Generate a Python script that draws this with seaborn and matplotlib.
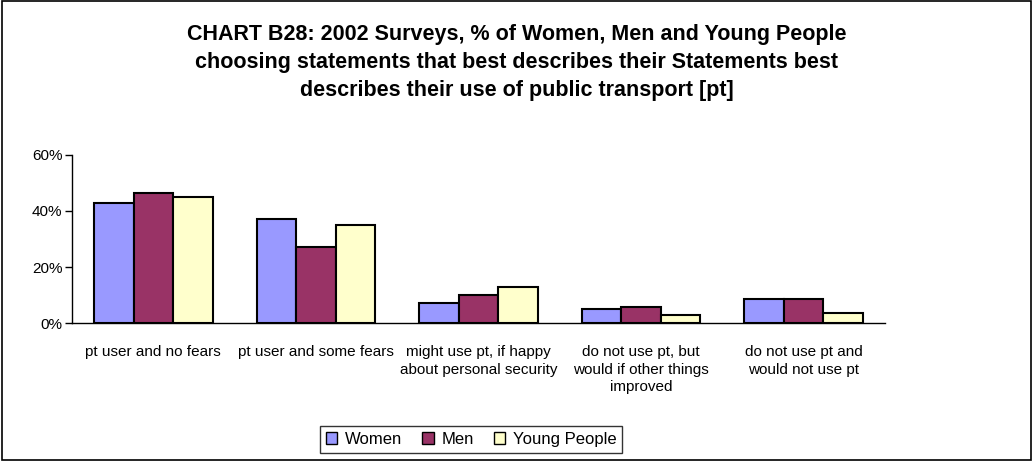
import matplotlib
matplotlib.use("Agg")
import matplotlib.pyplot as plt
import matplotlib.patches as mpatches
import seaborn as sns
import pandas as pd
import numpy as np

categories = ["pt user and no fears", "pt user and some fears",
              "might use pt, if happy\nabout personal security",
              "do not use pt, but\nwould if other things\nimproved",
              "do not use pt and\nwould not use pt"]
series_names = ["Women", "Men", "Young People"]
women = [42.9, 37.0, 7.3, 4.9, 8.5]
men = [46.4, 27.0, 10.0, 5.6, 8.5]
young = [45.0, 35.0, 12.7, 2.7, 3.7]
colors = ["#9999FF", "#993366", "#FFFFCC"]
y_ticks = [0, 20, 40, 60]

df = pd.DataFrame({
    "category": categories * 3,
    "series": sum([[s] * len(categories) for s in series_names], []),
    "value": women + men + young,
})

sns.set_theme(style="white")
plt.rcParams["font.family"] = ["Liberation Sans", "DejaVu Sans"]
plt.rcParams["text.color"] = "black"
plt.rcParams["xtick.color"] = "black"
plt.rcParams["ytick.color"] = "black"
plt.rcParams["axes.labelcolor"] = "black"

fig = plt.figure(figsize=(10.33, 4.61), dpi=100)
ax = fig.add_axes([0.0697, 0.2993, 0.787, 0.3645])

sns.barplot(data=df, x="category", y="value", hue="series", order=categories,
            hue_order=series_names, palette=colors, saturation=1, width=0.73, gap=0,
            edgecolor="black", linewidth=1.5, ax=ax, legend=True)

ax.set_ylim(0, 60)
ax.set_xlim(-0.5, len(categories) - 0.5)
ax.set_yticks(y_ticks)
ax.set_yticklabels([f"{t}%" for t in y_ticks], fontsize=11)
ax.set_xticks(range(len(categories)))
ax.set_xticklabels(categories, fontsize=11, linespacing=1.3)
ax.tick_params(axis="x", which="major", length=0, pad=16)
ax.set_xticks(np.arange(-0.5, len(categories), 1), minor=True)
ax.tick_params(axis="x", which="minor", length=5, width=1, color="black", direction="out")
ax.tick_params(axis="y", length=5, width=1, color="black", direction="out", left=True, pad=2)
ax.set_xlabel("")
ax.set_ylabel("")
for s in ["top", "right"]:
    ax.spines[s].set_visible(False)
for s in ["left", "bottom"]:
    ax.spines[s].set_color("black")
    ax.spines[s].set_linewidth(1)
ax.grid(False)

fig.text(0.5, 0.948, "CHART B28: 2002 Surveys, % of Women, Men and Young People\n"
         "choosing statements that best describes their Statements best\n"
         "describes their use of public transport [pt]",
         ha="center", va="top", fontsize=15.5, fontweight="bold", linespacing=1.45,
         color="black")

leg = ax.legend(loc="center", bbox_to_anchor=(0.456, 0.047), bbox_transform=fig.transFigure,
                ncol=3, frameon=True, fontsize=12, handlelength=0.7, handleheight=0.7,
                handletextpad=0.45, columnspacing=1.2, fancybox=False, borderpad=0.35)
leg.get_frame().set_edgecolor("black")
leg.get_frame().set_linewidth(1)
for t in leg.get_texts():
    t.set_color("black")
for h in leg.legend_handles:
    h.set_edgecolor("black")
    h.set_linewidth(1)

fig.patches.append(mpatches.Rectangle((0.002, 0.003), 0.996, 0.994, transform=fig.transFigure,
                                      fill=False, edgecolor="black", linewidth=1.2))

fig.savefig("out.png", dpi=100)
